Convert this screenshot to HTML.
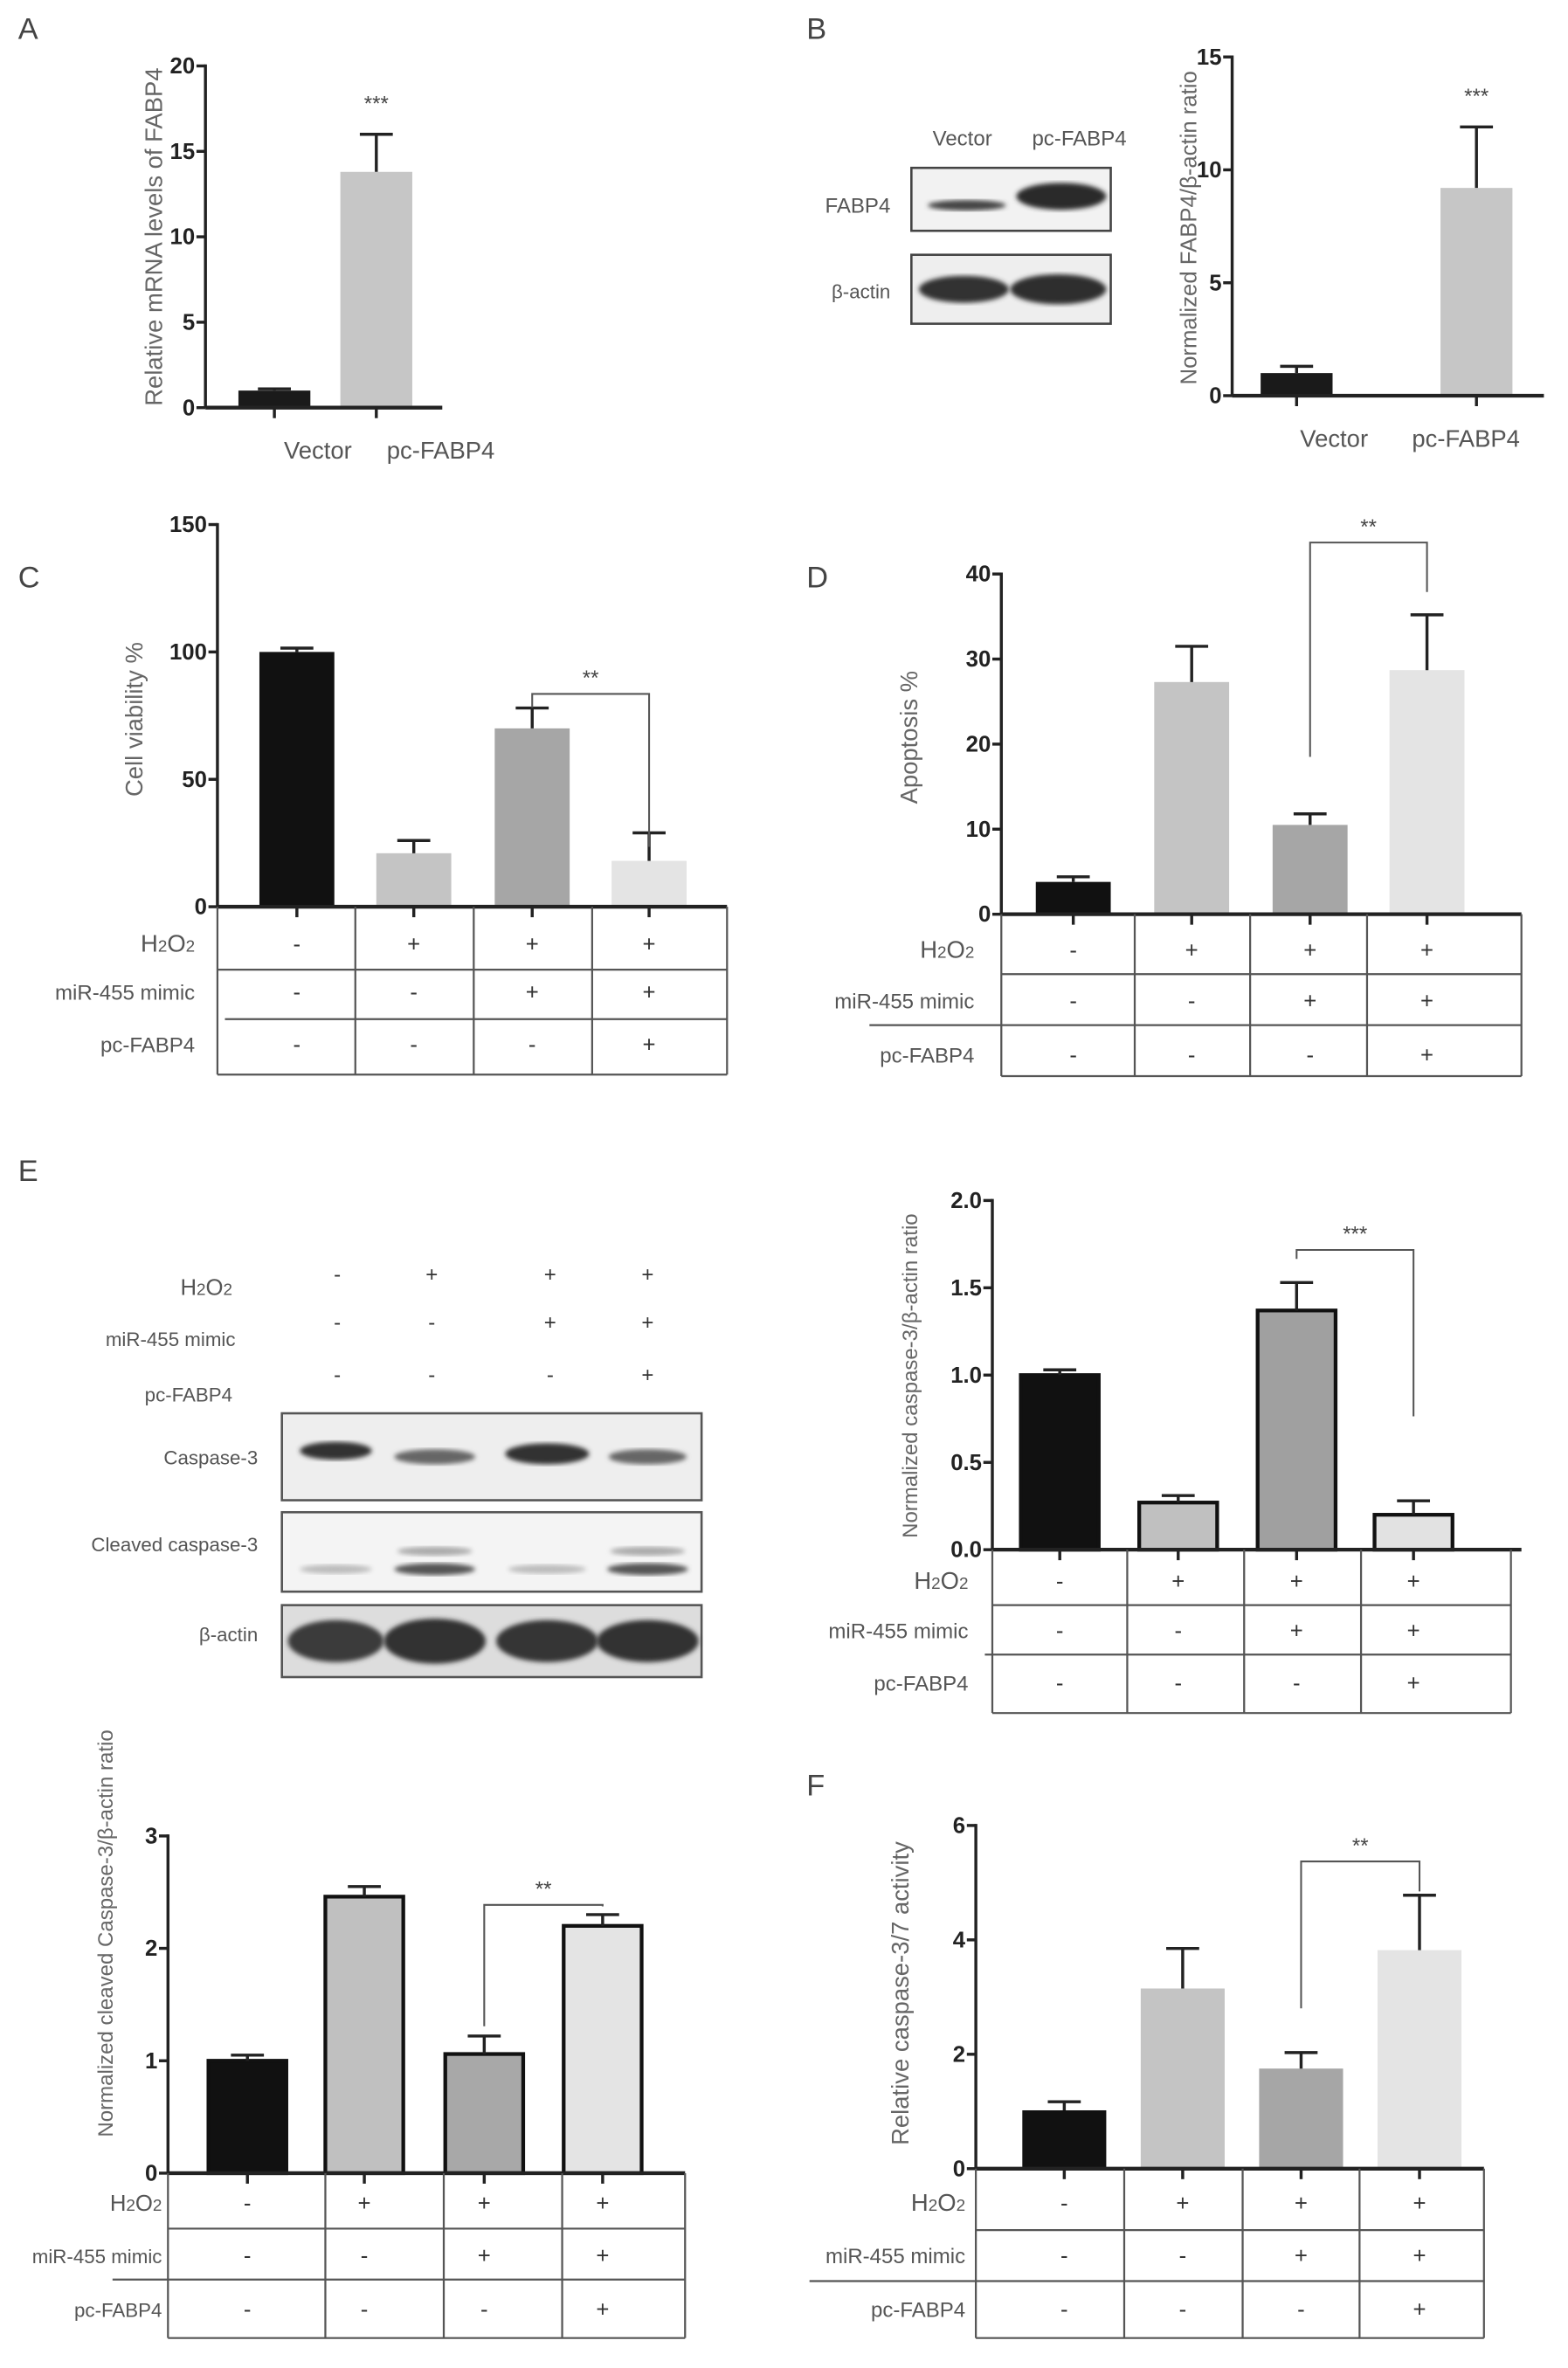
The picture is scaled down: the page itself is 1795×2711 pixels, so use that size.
<!DOCTYPE html>
<html><head><meta charset="utf-8"><style>
html,body{margin:0;padding:0;background:#fff;}
svg{display:block;}
text{font-family:"Liberation Sans",sans-serif;}
</style></head><body>
<svg id="fig" width="1795" height="2711" viewBox="0 0 1046 1580" xmlns="http://www.w3.org/2000/svg">
<defs>
<filter id="blur1"><feGaussianBlur stdDeviation="2.5"/></filter>
<filter id="blur2"><feGaussianBlur stdDeviation="1.5"/></filter>
</defs>
<rect width="1046" height="1580" fill="#fff"/>
<g font-size="20" fill="#444">
<text x="12" y="26">A</text>
<text x="538" y="26">B</text>
<text x="12" y="392">C</text>
<text x="538" y="392">D</text>
<text x="12" y="788">E</text>
<text x="538" y="1198">F</text>
</g>
<!-- blot B -->
<g>
<text x="642" y="97" font-size="14" fill="#555" text-anchor="middle">Vector</text>
<text x="720" y="97" font-size="14" fill="#555" text-anchor="middle">pc-FABP4</text>
<text x="594" y="142" font-size="14" fill="#555" text-anchor="end">FABP4</text>
<text x="594" y="199" font-size="13" fill="#555" text-anchor="end">β-actin</text>
<rect x="608" y="112" width="133" height="42" fill="#f2f2f2" stroke="#444" stroke-width="1.5"/>
<ellipse cx="645" cy="137" rx="26" ry="3.5" fill="#444" filter="url(#blur2)"/>
<ellipse cx="708" cy="131" rx="30" ry="9" fill="#2a2a2a" filter="url(#blur2)"/>
<rect x="608" y="170" width="133" height="46" fill="#eee" stroke="#444" stroke-width="1.5"/>
<ellipse cx="643" cy="193" rx="30" ry="9" fill="#333" filter="url(#blur2)"/>
<ellipse cx="706" cy="193" rx="32" ry="10" fill="#2e2e2e" filter="url(#blur2)"/>
</g>
<!-- blot E -->
<g fill="#555">
<text x="155" y="864" font-size="15" text-anchor="end">H<tspan font-size="11">2</tspan>O<tspan font-size="11">2</tspan></text>
<text x="157" y="898" font-size="13" text-anchor="end">miR-455 mimic</text>
<text x="155" y="935" font-size="13" text-anchor="end">pc-FABP4</text>
<g id="esigns" font-size="14" text-anchor="middle" fill="#333"></g>
<text x="172" y="977" font-size="13" text-anchor="end">Caspase-3</text>
<text x="172" y="1035" font-size="13" text-anchor="end">Cleaved  caspase-3</text>
<text x="172" y="1095" font-size="13" text-anchor="end">β-actin</text>
<rect x="188" y="943" width="280" height="58" fill="#eee" stroke="#555" stroke-width="1.5"/>
<ellipse cx="224" cy="968" rx="24" ry="6" fill="#333" filter="url(#blur2)"/>
<ellipse cx="290" cy="972" rx="27" ry="5" fill="#666" filter="url(#blur2)"/>
<ellipse cx="365" cy="970" rx="28" ry="7" fill="#333" filter="url(#blur2)"/>
<ellipse cx="432" cy="972" rx="26" ry="5" fill="#666" filter="url(#blur2)"/>
<rect x="188" y="1009" width="280" height="53" fill="#f4f4f4" stroke="#555" stroke-width="1.5"/>
<ellipse cx="224" cy="1047" rx="24" ry="3" fill="#bbb" filter="url(#blur2)"/>
<ellipse cx="290" cy="1047" rx="27" ry="4" fill="#555" filter="url(#blur2)"/>
<ellipse cx="290" cy="1035" rx="25" ry="3" fill="#aaa" filter="url(#blur2)"/>
<ellipse cx="365" cy="1047" rx="26" ry="3" fill="#bbb" filter="url(#blur2)"/>
<ellipse cx="432" cy="1047" rx="27" ry="4" fill="#555" filter="url(#blur2)"/>
<ellipse cx="432" cy="1035" rx="25" ry="3" fill="#aaa" filter="url(#blur2)"/>
<rect x="188" y="1071" width="280" height="48" fill="#ddd" stroke="#555" stroke-width="1.5"/>
<ellipse cx="224" cy="1095" rx="32" ry="14" fill="#3a3a3a" filter="url(#blur2)"/>
<ellipse cx="290" cy="1095" rx="34" ry="15" fill="#333" filter="url(#blur2)"/>
<ellipse cx="365" cy="1095" rx="34" ry="14" fill="#353535" filter="url(#blur2)"/>
<ellipse cx="432" cy="1095" rx="34" ry="14" fill="#333" filter="url(#blur2)"/>
</g>
<g id="charts"></g>
</svg>
<script>
// ---- data ----
const aCategories = ["Vector","pc-FABP4"];
const aValues = [1.0, 13.8];
const aErrors = [1.1, 16.0];
const aTicks = [0,5,10,15,20];

const bCategories = ["Vector","pc-FABP4"];
const bValues = [1.0, 9.2];
const bErrors = [1.3, 11.9];
const bTicks = [0,5,10,15];

const cValues = [100, 21, 70, 18];
const cErrors = [101.5, 26, 78, 29];
const cTicks = [0,50,100,150];

const dValues = [3.8, 27.3, 10.5, 28.7];
const dErrors = [4.4, 31.5, 11.8, 35.2];
const dTicks = [0,10,20,30,40];

const e1Values = [1.0, 0.27, 1.37, 0.2];
const e1Errors = [1.03, 0.31, 1.53, 0.28];
const e1Ticks = ["0.0","0.5","1.0","1.5","2.0"];

const e2Values = [1.0, 2.46, 1.06, 2.2];
const e2Errors = [1.05, 2.55, 1.22, 2.3];
const e2Ticks = [0,1,2,3];

const fValues = [1.02, 3.15, 1.75, 3.82];
const fErrors = [1.17, 3.85, 2.03, 4.78];
const fTicks = [0,2,4,6];

const rowH2O2 = ["-","+","+","+"];
const rowMimic = ["-","-","+","+"];
const rowPc = ["-","-","-","+"];

const NS="http://www.w3.org/2000/svg";
const root=document.getElementById('charts');
function mk(tag,attrs,parent,txt){const e=document.createElementNS(NS,tag);for(const k in attrs)e.setAttribute(k,attrs[k]);if(txt!==undefined)e.textContent=txt;(parent||root).appendChild(e);return e;}

// blot E signs
const eg=document.getElementById('esigns');
const eCols=[225,288,367,432];
[[rowH2O2,855],[rowMimic,887],[rowPc,922]].forEach(([row,y],ri)=>{
  row.forEach((s,i)=>{const t=mk('text',{x:eCols[i],y:y},eg,s);
  
  });
});

function chart(o){
  const g=mk('g',{});
  
  
  const vmax=+o.ticks[o.ticks.length-1];
  const ys=v=>o.y0-(v/vmax)*(o.y0-o.ytop);
  o.values.forEach((v,i)=>{
    const cx=o.centers[i];
    const r=mk('rect',{x:cx-o.bw/2,y:ys(v),width:o.bw,height:o.y0-ys(v),fill:o.colors[i],stroke:o.outline?'#111':'none','stroke-width':o.outline?2.5:0},g);
    
    
    const e=mk('path',{d:`M${cx} ${ys(v)}V${ys(o.errors[i])}M${cx-11} ${ys(o.errors[i])}H${cx+11}`,stroke:'#222','stroke-width':2,fill:'none'},g);
    
    
    const tk=mk('line',{x1:cx,x2:cx,y1:o.y0,y2:o.y0+7,stroke:'#222','stroke-width':2},g);
    
    
  });
  const ya=mk('line',{x1:o.x0,x2:o.x0,y1:o.ytop-1,y2:o.y0,stroke:'#222','stroke-width':2},g);
  
  
  const xa=mk('line',{x1:o.x0,x2:o.xend,y1:o.y0,y2:o.y0,stroke:'#222','stroke-width':2.5},g);
  
  
  o.ticks.forEach(t=>{
    const y=ys(+t);
    mk('line',{x1:o.x0-6,x2:o.x0,y1:y,y2:y,stroke:'#222','stroke-width':2},g);
    const tl=mk('text',{x:o.x0-7,y:y+5,'font-size':15,'text-anchor':'end',fill:'#222','font-weight':'bold'},g,String(t));
    
    
  });
  const yl=mk('text',{x:0,y:0,'font-size':o.ylfs||16,'text-anchor':'middle',fill:'#666',transform:`translate(${o.ylx},${o.yly}) rotate(-90)`},g,o.ylabel);
  
  
  if(o.cats){o.cats.forEach((c,i)=>{
    const t=mk('text',{x:o.catx[i],y:o.y0+34,'font-size':16,'text-anchor':'middle',fill:'#555'},g,c);
    
    
  });}
  if(o.star){
    const t=mk('text',{x:o.centers[1],y:ys(o.errors[1])-16,'font-size':14,'text-anchor':'middle',fill:'#444'},g,o.star);
    
    
  }
  if(o.bracket){
    const b=o.bracket,x1=o.centers[b.i],x2=o.centers[b.j];
    const p=mk('path',{d:`M${x1} ${b.l1}V${b.y}H${x2}V${b.l2}`,stroke:'#555','stroke-width':1.2,fill:'none'},g);
    
    
    const t=mk('text',{x:(x1+x2)/2,y:b.y-6,'font-size':14,'text-anchor':'middle',fill:'#444'},g,b.t);
    
    
  }
  if(o.table){
    const T=o.table;
    const tg=mk('g',{},g);
    
    
    const ln=(x1,y1,x2,y2)=>mk('line',{x1,y1,x2,y2,stroke:'#555','stroke-width':1.3},tg);
    ln(o.x0,o.y0,o.x0,T.bottom);ln(T.right,o.y0,T.right,T.bottom);ln(o.x0,T.bottom,T.right,T.bottom);
    T.vlines.forEach(x=>ln(x,o.y0,x,T.bottom));
    ln(o.x0,T.h1,T.right,T.h1);ln(T.h2x,T.h2,T.right,T.h2);
    const rows=[rowH2O2,rowMimic,rowPc];
    const labs=["H2O2","miR-455 mimic","pc-FABP4"];
    const fs=T.fs||14;
    T.rowy.forEach((y,ri)=>{
      let lab;
      if(ri===0){lab=mk('text',{x:T.labx,y:y+5,'font-size':fs+2,'text-anchor':'end',fill:'#555'},tg);
        lab.innerHTML='H<tspan font-size="11">2</tspan>O<tspan font-size="11">2</tspan>';}
      else lab=mk('text',{x:T.labx,y:y+5,'font-size':fs,'text-anchor':'end',fill:'#555'},tg,labs[ri]);
      
      
      rows[ri].forEach((s,i)=>{
        const t=mk('text',{x:o.centers[i],y:y+5,'font-size':15,'text-anchor':'middle',fill:'#333'},tg,s);
        
        
      });
    });
  }
}

chart({name:'chart-a-mrna',x0:137,xend:295,y0:272,ytop:44,ticks:aTicks,values:aValues,errors:aErrors,centers:[183,251],bw:48,colors:['#1a1a1a','#c6c6c6'],ylabel:'Relative mRNA levels of FABP4',ylx:108,yly:158,cats:aCategories,catx:[212,294],star:'***'});
chart({name:'chart-b-fabp4',x0:822,xend:1030,y0:264,ytop:38,ticks:bTicks,values:bValues,errors:bErrors,centers:[865,985],bw:48,colors:['#1a1a1a','#c6c6c6'],ylabel:'Normalized FABP4/β-actin ratio',ylx:798,yly:152,ylfs:15,cats:bCategories,catx:[890,978],star:'***'});
chart({name:'chart-c-viability',x0:145,xend:485,y0:605,ytop:350,ticks:cTicks,values:cValues,errors:cErrors,centers:[198,276,355,433],bw:50,colors:['#111','#c4c4c4','#a6a6a6','#e4e4e4'],ylabel:'Cell viability %',ylx:95,yly:480,
  bracket:{i:2,j:3,y:463,l1:472,l2:565,t:'**'},
  table:{right:485,bottom:717,vlines:[237,316,395],h1:647,h2:680,h2x:150,rowy:[630,662,697],labx:130}});
chart({name:'chart-d-apoptosis',x0:668,xend:1015,y0:610,ytop:383,ticks:dTicks,values:dValues,errors:dErrors,centers:[716,795,874,952],bw:50,colors:['#111','#c4c4c4','#a6a6a6','#e4e4e4'],ylabel:'Apoptosis %',ylx:612,yly:492,
  bracket:{i:2,j:3,y:362,l1:505,l2:395,t:'**'},
  table:{right:1015,bottom:718,vlines:[757,834,912],h1:650,h2:684,h2x:580,rowy:[634,668,704],labx:650}});
chart({name:'chart-e-caspase3',x0:662,xend:1015,y0:1034,ytop:801,ticks:e1Ticks,values:e1Values,errors:e1Errors,centers:[707,786,865,943],bw:52,outline:true,colors:['#111','#c0c0c0','#a0a0a0','#e2e2e2'],ylabel:'Normalized caspase-3/β-actin ratio',ylx:612,yly:918,ylfs:14,
  bracket:{i:2,j:3,y:834,l1:840,l2:945,t:'***'},
  table:{right:1008,bottom:1143,vlines:[752,830,908],h1:1071,h2:1104,h2x:657,rowy:[1055,1088,1123],labx:646}});
chart({name:'chart-e-cleaved-caspase3',x0:112,xend:457,y0:1450,ytop:1225,ticks:e2Ticks,values:e2Values,errors:e2Errors,centers:[165,243,323,402],bw:52,outline:true,colors:['#111','#c0c0c0','#a8a8a8','#e4e4e4'],ylabel:'Normalized cleaved Caspase-3/β-actin ratio',ylx:75,yly:1290,ylfs:14,
  bracket:{i:2,j:3,y:1271,l1:1352,l2:1272,t:'**'},
  table:{right:457,bottom:1560,vlines:[217,296,375],h1:1487,h2:1521,h2x:75,rowy:[1470,1505,1541],labx:108,fs:13}});
chart({name:'chart-f-caspase37',x0:651,xend:990,y0:1447,ytop:1218,ticks:fTicks,values:fValues,errors:fErrors,centers:[710,789,868,947],bw:56,colors:['#111','#c4c4c4','#a6a6a6','#e4e4e4'],ylabel:'Relative caspase-3/7 activity',ylx:606,yly:1330,
  bracket:{i:2,j:3,y:1242,l1:1340,l2:1262,t:'**'},
  table:{right:990,bottom:1560,vlines:[750,829,907],h1:1488,h2:1522,h2x:540,rowy:[1470,1505,1541],labx:644}});
</script>
</body></html>
